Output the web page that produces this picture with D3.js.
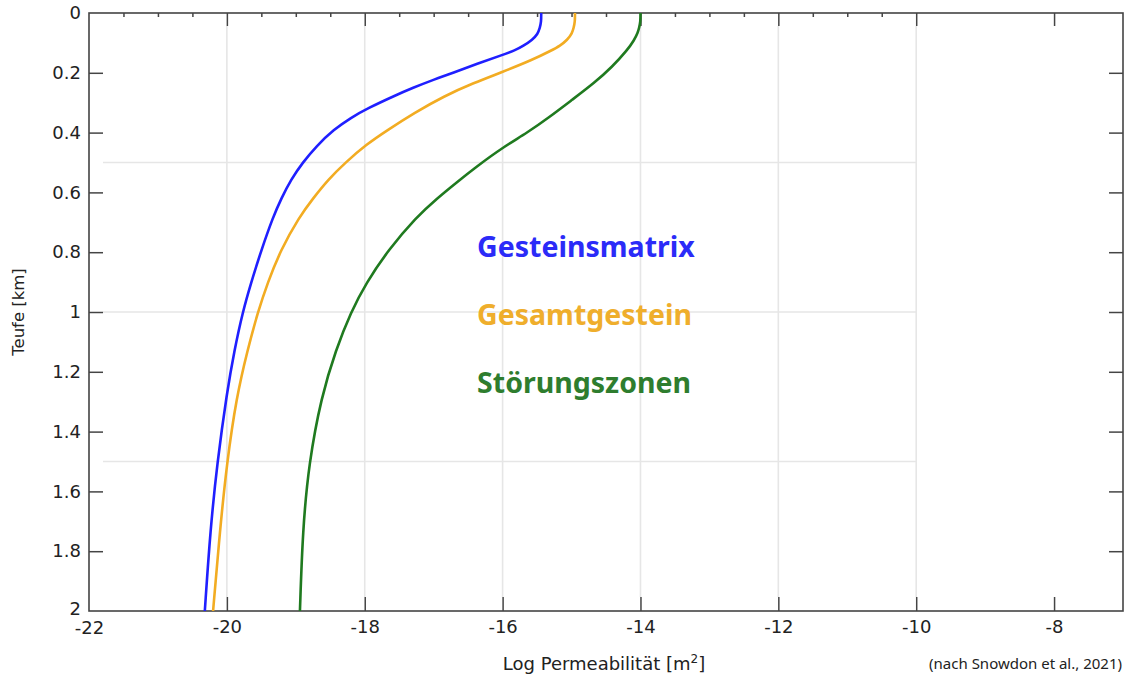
<!DOCTYPE html>
<html>
<head>
<meta charset="utf-8">
<script src="https://cdn.jsdelivr.net/npm/d3@7"></script>
<style>
  html, body { margin: 0; padding: 0; background: #fff; }
  svg { display: block; }
</style>
</head>
<body>
<svg id="chart" width="1124" height="674"></svg>
<script>
// ---- data ----
const depthBlue = [0, 0.03, 0.05, 0.07, 0.09, 0.11, 0.125, 0.14, 0.17, 0.2, 0.223, 0.25, 0.278, 0.318, 0.35, 0.39, 0.445, 0.5, 0.557, 0.62, 0.682, 0.793, 0.903, 1.0, 1.127, 1.27, 1.505, 1.729, 2.0];
const permBlue  = [-15.44, -15.44, -15.46, -15.49, -15.57, -15.70, -15.82, -16.0, -16.37, -16.72, -17.0, -17.3, -17.58, -17.95, -18.2, -18.45, -18.7, -18.9, -19.07, -19.21, -19.33, -19.50, -19.65, -19.77, -19.89, -20.0, -20.14, -20.24, -20.32];

const depthOrange = [0, 0.03, 0.05, 0.067, 0.09, 0.11, 0.124, 0.157, 0.197, 0.234, 0.278, 0.334, 0.39, 0.44, 0.5, 0.557, 0.62, 0.682, 0.793, 0.903, 1.0, 1.127, 1.284, 1.505, 1.729, 2.0];
const permOrange  = [-14.95, -14.95, -14.97, -14.99, -15.06, -15.17, -15.28, -15.57, -16.0, -16.42, -16.85, -17.28, -17.66, -17.98, -18.28, -18.53, -18.75, -18.95, -19.22, -19.41, -19.55, -19.70, -19.86, -20.0, -20.1, -20.2];

const depthGreen = [0, 0.03, 0.05, 0.067, 0.09, 0.124, 0.18, 0.234, 0.29, 0.348, 0.40, 0.45, 0.514, 0.569, 0.62, 0.682, 0.793, 0.903, 1.0, 1.127, 1.284, 1.505, 1.729, 2.0];
const permGreen  = [-14.0, -14.0, -14.02, -14.04, -14.09, -14.19, -14.41, -14.67, -14.99, -15.32, -15.64, -16.0, -16.38, -16.68, -16.95, -17.25, -17.66, -17.98, -18.2, -18.42, -18.63, -18.81, -18.9, -18.94];

const seriesNames = ["Gesteinsmatrix", "Gesamtgestein", "Störungszonen"];
const xTicks = [-22, -20, -18, -16, -14, -12, -10, -8];
const yTicks = [0, 0.2, 0.4, 0.6, 0.8, 1, 1.2, 1.4, 1.6, 1.8, 2];
const xMinorTicks = d3.range(-21.5, -10, 0.5).filter(v => Math.abs(v % 2) > 0.01);
const xGrid = [-20, -18, -16, -14, -12, -10];
const yGrid = [0.5, 1.0, 1.5];
const xTitle = "Log Permeabilität [m";
const yTitle = "Teufe [km]";
const source = "(nach Snowdon et al., 2021)";

// ---- layout ----
const L = 89, R = 1123, T = 13, B = 611;
const x = d3.scaleLinear().domain([-22, -7]).range([L, R]);
const y = d3.scaleLinear().domain([0, 2]).range([T, B]);

const svg = d3.select("#chart");
const tickFont = "'DejaVu Sans', Verdana, sans-serif";
const axisColor = "#444";
const fmt = d => String(d);

// gridlines
svg.append("g").selectAll("line").data(xGrid).join("line")
  .attr("x1", d => x(d)).attr("x2", d => x(d))
  .attr("y1", T + 13).attr("y2", B - 14)
  .attr("stroke", "#e6e6e6").attr("stroke-width", 1.6);
svg.append("g").selectAll("line").data(yGrid).join("line")
  .attr("x1", L + 14).attr("x2", x(-10))
  .attr("y1", d => y(d)).attr("y2", d => y(d))
  .attr("stroke", "#e6e6e6").attr("stroke-width", 1.6);

// axes
const gl = svg.append("g").attr("transform", `translate(${L},0)`)
  .call(d3.axisLeft(y).tickValues(yTicks).tickFormat(fmt).tickSizeInner(-14).tickSizeOuter(0).tickPadding(8));
const gr = svg.append("g").attr("transform", `translate(${R},0)`)
  .call(d3.axisRight(y).tickValues(yTicks.slice(1, -1)).tickFormat("").tickSizeInner(-14).tickSizeOuter(0));
const gb = svg.append("g").attr("transform", `translate(0,${B})`)
  .call(d3.axisBottom(x).tickValues(xTicks).tickFormat(fmt).tickSizeInner(-14).tickSizeOuter(0).tickPadding(9));
const gt = svg.append("g").attr("transform", `translate(0,${T})`)
  .call(d3.axisTop(x).tickValues(xTicks.slice(1)).tickFormat("").tickSizeInner(-13).tickSizeOuter(0));
const gtm = svg.append("g").attr("transform", `translate(0,${T})`)
  .call(d3.axisTop(x).tickValues(xMinorTicks).tickFormat("").tickSizeInner(-4).tickSizeOuter(0));

[gl, gr, gb, gt, gtm].forEach(g => {
  g.select(".domain").remove();
  g.selectAll(".tick line").attr("stroke", axisColor).attr("stroke-width", 1.5);
  g.selectAll(".tick text").attr("fill", "#222").style("font-family", tickFont).style("font-size", "18px");
});
gb.selectAll(".tick line").filter(d => d === -22).remove();
gl.selectAll(".tick line").filter(d => d === 0 || d === 2).remove();
gl.selectAll(".tick text").filter(d => d === 2).attr("dy", "0.2em");
gb.selectAll(".tick text").filter(d => d === -22).attr("dy", "0.8em");

// frame
svg.append("rect").attr("x", L).attr("y", T).attr("width", R - L).attr("height", B - T)
  .attr("fill", "none").attr("stroke", axisColor).attr("stroke-width", 1.6);

// curves
const series = [
  { name: seriesNames[0], depth: depthBlue, perm: permBlue, color: "#1f1fff", text: "#2b2bf8" },
  { name: seriesNames[1], depth: depthOrange, perm: permOrange, color: "#f2ac22", text: "#efae2c" },
  { name: seriesNames[2], depth: depthGreen, perm: permGreen, color: "#1f7a1f", text: "#2e7d2e" }
];
const line = d3.line().x(d => x(d[1])).y(d => y(d[0])).curve(d3.curveBasis);
series.forEach(s => {
  svg.append("path").datum(s.depth.map((dd, i) => [dd, s.perm[i]]))
    .attr("d", line).attr("fill", "none").attr("stroke", s.color).attr("stroke-width", 2.6);
});

// labels inside plot
const labelY = [0.815, 1.045, 1.272];
series.forEach((s, i) => {
  svg.append("text").attr("x", x(-16.37)).attr("y", y(labelY[i]))
    .text(s.name).attr("fill", s.text)
    .style("font-family", "'Noto Sans', 'Open Sans', sans-serif").style("font-weight", "700").style("font-size", "28.5px");
});

// axis titles
const xt = svg.append("text").attr("x", 604).attr("y", 670).attr("text-anchor", "middle")
  .attr("fill", "#222").style("font-family", tickFont).style("font-size", "18px");
xt.append("tspan").text(xTitle);
xt.append("tspan").text("2").attr("dy", -7).style("font-size", "12px");
xt.append("tspan").text("]").attr("dy", 7);

svg.append("text").attr("transform", "translate(24,312) rotate(-90)").attr("text-anchor", "middle")
  .attr("fill", "#222").style("font-family", tickFont).style("font-size", "16.5px").text(yTitle);

svg.append("text").attr("x", 1122).attr("y", 669).attr("text-anchor", "end")
  .attr("fill", "#222").style("font-family", "'Noto Sans', 'Open Sans', sans-serif").style("font-size", "15px").text(source);
</script>
</body>
</html>
